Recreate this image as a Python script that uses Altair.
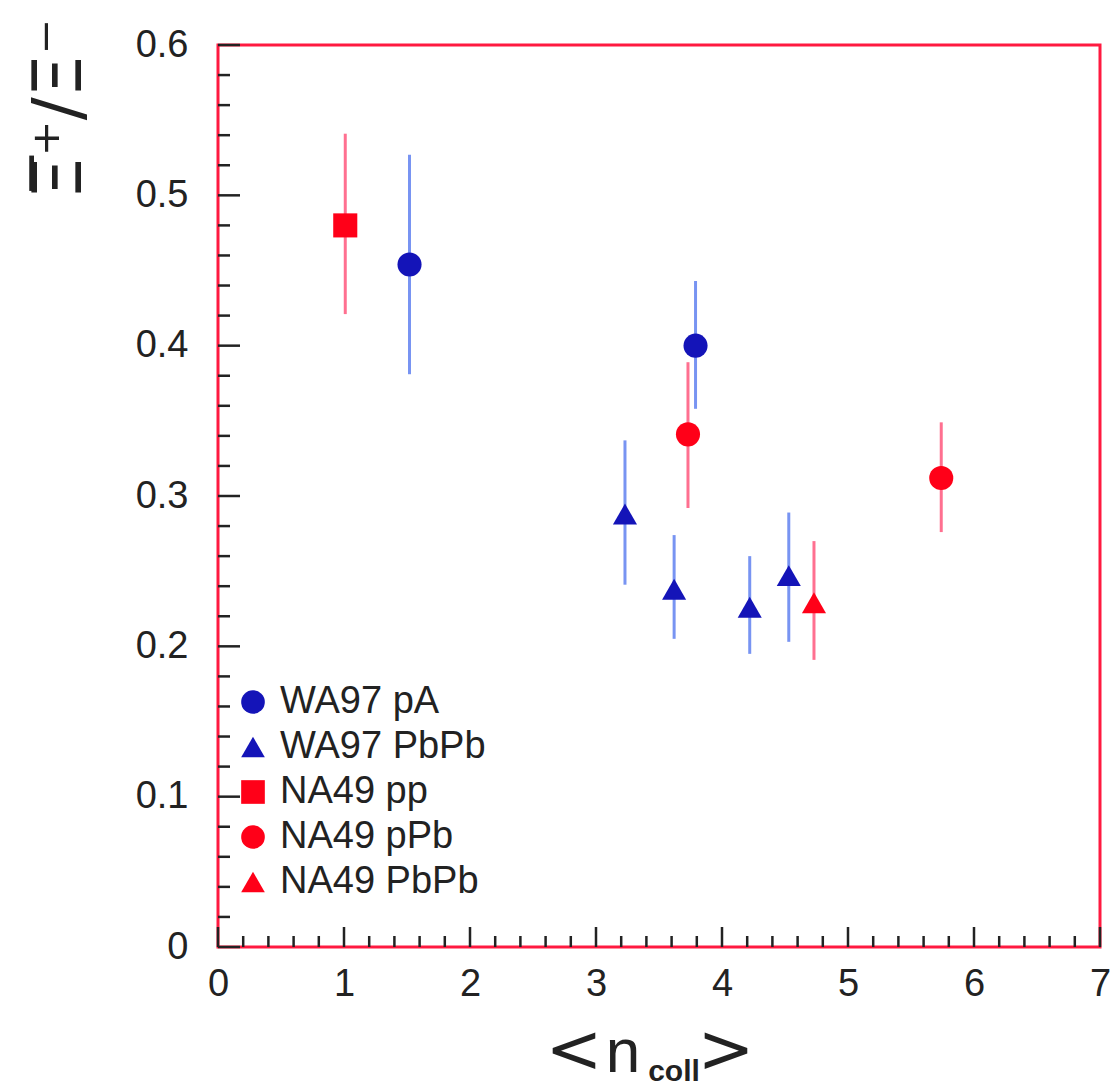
import altair as alt
import pandas as pd

# ---- data ----
series = ["WA97 pA", "WA97 pA",
          "WA97 PbPb", "WA97 PbPb", "WA97 PbPb", "WA97 PbPb",
          "NA49 pp",
          "NA49 pPb", "NA49 pPb",
          "NA49 PbPb"]
ncoll = [1.52, 3.79, 3.23, 3.62, 4.22, 4.53, 1.01, 3.73, 5.74, 4.73]
ratio = [0.454, 0.400, 0.288, 0.238, 0.226, 0.247, 0.480, 0.341, 0.312, 0.229]
err_lo = [0.381, 0.358, 0.241, 0.205, 0.195, 0.203, 0.421, 0.292, 0.276, 0.191]
err_hi = [0.527, 0.443, 0.337, 0.274, 0.260, 0.289, 0.541, 0.389, 0.349, 0.270]

legend_order = ["WA97 pA", "WA97 PbPb", "NA49 pp", "NA49 pPb", "NA49 PbPb"]
marker_colors = ["#1414b8", "#1414b8", "#ff0018", "#ff0018", "#ff0018"]
marker_shapes = ["circle", "triangle-up", "square", "circle", "triangle-up"]
experiments = ["WA97", "NA49"]
bar_colors = ["#7894f2", "#ff7090"]

x_major = [0, 1, 2, 3, 4, 5, 6, 7]
x_minor = [m + k * 0.2 for m in range(7) for k in (1, 2, 3, 4)]
y_major = [0, 0.1, 0.2, 0.3, 0.4, 0.5, 0.6]
y_minor = [round(m + k * 0.02, 3) for m in (0, 0.1, 0.2, 0.3, 0.4, 0.5) for k in (1, 2, 3, 4)]

df = pd.DataFrame({"series": series, "ncoll": ncoll,
                   "ratio": ratio, "lo": err_lo, "hi": err_hi})

W, H = 882, 902
FONT = "Liberation Sans"

xscale = alt.Scale(domain=[0, 7], nice=False, zero=False)
yscale = alt.Scale(domain=[0, 0.6], nice=False, zero=False)
xaxis = alt.Axis(values=x_major, title=None, grid=False, domain=False, ticks=False,
                 labelFontSize=38, labelFont=FONT, labelColor="#222222",
                 labelPadding=18, labelFlush=False)
yaxis = alt.Axis(values=y_major, title="Ξ̅⁺/Ξ⁻", grid=False, domain=False, ticks=False,
                 labelFontSize=38, labelFont=FONT, labelColor="#222222",
                 labelPadding=30, labelFlush=False,
                 labelExpr="datum.value == 0 ? '0' : format(datum.value, '.1f')",
                 titleFontSize=68, titleFont="DejaVu Sans", titleFontWeight="normal",
                 titleColor="#222222", titleAngle=-90, titleAlign="right",
                 titleBaseline="alphabetic", titleX=-138, titleY=-27)

legend = alt.Legend(title=None, orient="none", legendX=16, legendY=638,
                    labelFontSize=38, labelFont=FONT, labelColor="#222222",
                    labelLimit=0, symbolSize=560, symbolStrokeWidth=0,
                    labelOffset=8, rowPadding=7, padding=0, symbolOpacity=1)

err_layers = []
for exp, col in zip(experiments, bar_colors):
    err_layers.append(
        alt.Chart(df).transform_filter(f"indexof(datum.series, '{exp}') == 0")
        .mark_rule(strokeWidth=3, color=col).encode(
            x=alt.X("ncoll:Q", scale=xscale, axis=xaxis),
            y=alt.Y("lo:Q", scale=yscale, axis=yaxis),
            y2="hi:Q",
        )
    )

points = alt.Chart(df).mark_point(filled=True, opacity=1, size=580).encode(
    x=alt.X("ncoll:Q", scale=xscale, axis=xaxis),
    y=alt.Y("ratio:Q", scale=yscale, axis=yaxis),
    color=alt.Color("series:N", scale=alt.Scale(domain=legend_order, range=marker_colors),
                    legend=legend),
    shape=alt.Shape("series:N", scale=alt.Scale(domain=legend_order, range=marker_shapes),
                    legend=legend),
)

tick_color = "#222222"
yt_major = alt.Chart(pd.DataFrame({"v": y_major})).mark_rule(color=tick_color, strokeWidth=2.5).encode(
    y=alt.Y("v:Q", scale=yscale, axis=yaxis), x=alt.value(0), x2=alt.value(22))
yt_minor = alt.Chart(pd.DataFrame({"v": y_minor})).mark_rule(color=tick_color, strokeWidth=2.5).encode(
    y=alt.Y("v:Q", scale=yscale, axis=yaxis), x=alt.value(0), x2=alt.value(12))
xt_major = alt.Chart(pd.DataFrame({"v": x_major})).mark_rule(color=tick_color, strokeWidth=2.5).encode(
    x=alt.X("v:Q", scale=xscale, axis=xaxis), y=alt.value(H), y2=alt.value(H - 20))
xt_minor = alt.Chart(pd.DataFrame({"v": x_minor})).mark_rule(color=tick_color, strokeWidth=2.5).encode(
    x=alt.X("v:Q", scale=xscale, axis=xaxis), y=alt.value(H), y2=alt.value(H - 11))

# x-axis title  < n_coll >
def label(txt, x, y, size, weight="normal", font=FONT):
    return alt.Chart(pd.DataFrame({"t": [txt]})).mark_text(
        fontSize=size, font=font, fontWeight=weight, color="#222222",
        align="center", baseline="alphabetic").encode(
        text="t:N", x=alt.value(x), y=alt.value(y))

xtitle = (label("<", 356, 1027, 68, font="DejaVu Sans")
          + label("n", 405, 1027, 62)
          + label("coll", 456, 1036, 30, weight="bold")
          + label(">", 508, 1027, 68, font="DejaVu Sans"))

chart = alt.layer(
    *err_layers, points, yt_major, yt_minor, xt_major, xt_minor, xtitle
).properties(
    width=W, height=H,
    background="white",
    autosize=alt.AutoSizeParams(type="none"),
    padding={"left": 218, "top": 45, "right": 10, "bottom": 140},
).configure_view(
    stroke="#ff1a40", strokeWidth=3
)

chart.save("out.html", embed_options={"renderer": "svg", "actions": False})
